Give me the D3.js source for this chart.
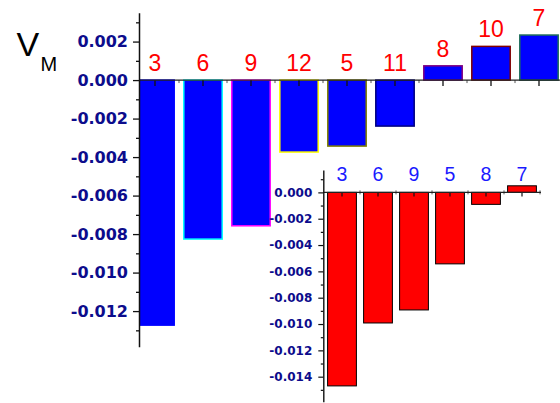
<!DOCTYPE html>
<html>
<head>
<meta charset="utf-8">
<script src="https://cdn.jsdelivr.net/npm/d3@7"></script>
<style>
  html, body { margin: 0; padding: 0; background: #fff; }
  svg { display: block; }
</style>
</head>
<body>
<svg id="chart" width="560" height="403"></svg>
<script>
// Main panel: V_M per site
const mainCats = ["3", "6", "9", "12", "5", "11", "8", "10", "7"];
const mainValues = [-0.01273, -0.00826, -0.00757, -0.00374, -0.00343, -0.00239, 0.00074, 0.00175, 0.00234];
const mainMajorTicks = [0.002, 0.000, -0.002, -0.004, -0.006, -0.008, -0.010, -0.012];
const mainMinorTicks = [0.003, 0.001, -0.001, -0.003, -0.005, -0.007, -0.009, -0.011, -0.013];

// Inset panel
const insetCats = ["3", "6", "9", "5", "8", "7"];
const insetValues = [-0.0147, -0.00992, -0.00893, -0.00543, -0.00091, 0.0005];
const insetMajorTicks = [0.000, -0.002, -0.004, -0.006, -0.008, -0.010, -0.012, -0.014];
const insetMinorTicks = [0.001, -0.001, -0.003, -0.005, -0.007, -0.009, -0.011, -0.013, -0.015];

// Outline colours of the main bars, in category order
const mainEdgePalette = ["#0000ff", "#00ffff", "#ff00ff", "#ffff00", "#808000", "#000080", "#800080", "#800000", "#1f6f5a"];

const svg = d3.select("#chart");
const fmt = d3.formatLocale({decimal: ".", thousands: ",", grouping: [3], currency: ["", ""], minus: "-"}).format(".3f");

// ---------- main panel ----------
const x = d3.scaleBand().domain(mainCats).range([131, 563]).paddingInner(0.2).paddingOuter(0.1);
const y = d3.scaleLinear().domain([-0.01385, 0.0035]).range([346.7, 12.7]);
const yAxisX = 139;

svg.append("defs").append("clipPath").attr("id", "mainClip")
  .append("rect").attr("x", yAxisX).attr("y", 0).attr("width", 560 - yAxisX).attr("height", 403);

svg.append("g").attr("clip-path", "url(#mainClip)")
  .selectAll("rect").data(mainValues).join("rect")
  .attr("x", (d, i) => x(mainCats[i]))
  .attr("width", x.bandwidth())
  .attr("y", d => y(Math.max(0, d)))
  .attr("height", d => Math.abs(y(d) - y(0)))
  .attr("fill", "#0000ff")
  .attr("stroke", (d, i) => mainEdgePalette[i])
  .attr("stroke-width", 1.5);

// x axis along zero: major ticks at bar centres, minor ticks between bars
const gx = svg.append("g").attr("transform", `translate(0,${y(0)})`)
  .call(d3.axisBottom(x).tickSize(6).tickFormat(""));
gx.select(".domain").remove();
gx.selectAll(".tick line").attr("stroke", "#111").attr("stroke-width", 1.3);
const mainBounds = d3.range(mainCats.length + 1).map(i => x.range()[0] + i * x.step());
svg.append("g").selectAll("line").data(mainBounds.filter(b => b > yAxisX && b < 560)).join("line")
  .attr("x1", d => d).attr("x2", d => d)
  .attr("y1", y(0)).attr("y2", y(0) + 3)
  .attr("stroke", "#555").attr("stroke-width", 1);
svg.append("line")
  .attr("x1", yAxisX).attr("x2", 560).attr("y1", y(0)).attr("y2", y(0))
  .attr("stroke", "#222").attr("stroke-width", 1.4);

// y axis
const gyMinor = svg.append("g").attr("transform", `translate(${yAxisX},0)`)
  .call(d3.axisLeft(y).tickValues(mainMinorTicks).tickSize(3).tickFormat(""));
gyMinor.select(".domain").remove();
gyMinor.selectAll(".tick line").attr("stroke", "#111").attr("stroke-width", 1.3);

const gy = svg.append("g").attr("transform", `translate(${yAxisX},0)`)
  .call(d3.axisLeft(y).tickValues(mainMajorTicks).tickSize(6).tickPadding(5).tickSizeOuter(0).tickFormat(fmt));
gy.select(".domain").attr("stroke", "#111").attr("stroke-width", 1.5);
gy.selectAll(".tick line").attr("stroke", "#111").attr("stroke-width", 1.3);
gy.selectAll(".tick text")
  .attr("font-family", "'DejaVu Sans', sans-serif")
  .attr("font-weight", "bold")
  .attr("font-size", 16)
  .attr("fill", "#0c0c8c");

// bar labels
svg.append("g").selectAll("text").data(mainValues).join("text")
  .attr("x", (d, i) => x(mainCats[i]) + x.bandwidth() / 2)
  .attr("y", d => Math.min(y(0), y(d)) - 9)
  .attr("text-anchor", "middle")
  .attr("font-family", "'Liberation Sans', Arial, sans-serif")
  .attr("font-size", 23)
  .attr("fill", "#ff0000")
  .text((d, i) => mainCats[i]);

// axis title V_M
const title = svg.append("text")
  .attr("font-family", "'Liberation Sans', Arial, sans-serif")
  .attr("fill", "#000");
title.append("tspan").attr("x", 16.5).attr("y", 56).attr("font-size", 34).text("V");
title.append("tspan").attr("x", 40.5).attr("y", 70.5).attr("font-size", 20).text("M");

// ---------- inset panel ----------
const xi = d3.scaleBand().domain(insetCats).range([324, 540]).paddingInner(0.2).paddingOuter(0.1);
const yi = d3.scaleLinear().domain([-0.0159, 0.0017]).range([401.7, 170]);
const insetAxisX = 323.3;

svg.append("g").selectAll("rect").data(insetValues).join("rect")
  .attr("x", (d, i) => xi(insetCats[i]))
  .attr("width", xi.bandwidth())
  .attr("y", d => yi(Math.max(0, d)))
  .attr("height", d => Math.abs(yi(d) - yi(0)))
  .attr("fill", "#ff0000")
  .attr("stroke", "#000")
  .attr("stroke-width", 1);

const gxi = svg.append("g").attr("transform", `translate(0,${yi(0)})`)
  .call(d3.axisBottom(xi).tickSize(4).tickFormat(""));
gxi.select(".domain").remove();
gxi.selectAll(".tick line").attr("stroke", "#111").attr("stroke-width", 1.2);
const insetBounds = d3.range(insetCats.length + 1).map(i => xi.range()[0] + i * xi.step());
svg.append("g").selectAll("line").data(insetBounds.slice(1)).join("line")
  .attr("x1", d => d).attr("x2", d => d)
  .attr("y1", yi(0) - 2).attr("y2", yi(0) + 2)
  .attr("stroke", "#555").attr("stroke-width", 1);
svg.append("line")
  .attr("x1", insetAxisX).attr("x2", xi.range()[1] + 1).attr("y1", yi(0)).attr("y2", yi(0))
  .attr("stroke", "#222").attr("stroke-width", 1.3);

const gyiMinor = svg.append("g").attr("transform", `translate(${insetAxisX},0)`)
  .call(d3.axisLeft(yi).tickValues(insetMinorTicks).tickSize(2.5).tickFormat(""));
gyiMinor.select(".domain").remove();
gyiMinor.selectAll(".tick line").attr("stroke", "#111").attr("stroke-width", 1.2);

const gyi = svg.append("g").attr("transform", `translate(${insetAxisX},0)`)
  .call(d3.axisLeft(yi).tickValues(insetMajorTicks).tickSize(5).tickPadding(6).tickSizeOuter(0).tickFormat(fmt));
gyi.select(".domain").attr("stroke", "#111").attr("stroke-width", 1.4);
gyi.selectAll(".tick line").attr("stroke", "#111").attr("stroke-width", 1.2);
gyi.selectAll(".tick text")
  .attr("font-family", "'DejaVu Sans', sans-serif")
  .attr("font-weight", "bold")
  .attr("font-size", 12)
  .attr("fill", "#0c0c8c");

svg.append("g").selectAll("text").data(insetCats).join("text")
  .attr("x", d => xi(d) + xi.bandwidth() / 2)
  .attr("y", 181)
  .attr("text-anchor", "middle")
  .attr("font-family", "'Liberation Sans', Arial, sans-serif")
  .attr("font-size", 19.5)
  .attr("fill", "#1a1aff")
  .text(d => d);
</script>
</body>
</html>
